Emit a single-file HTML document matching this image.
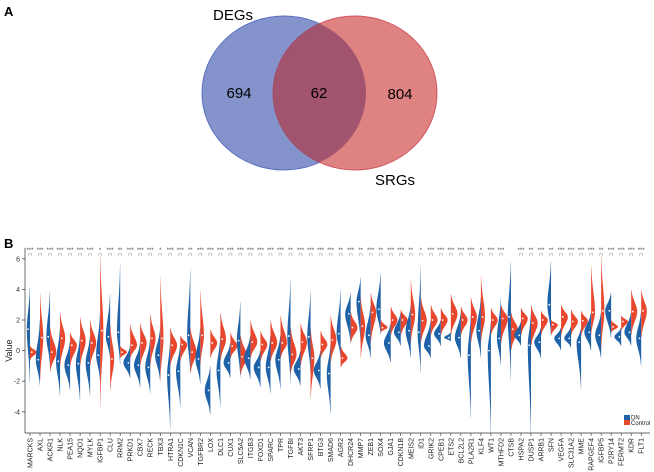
<!DOCTYPE html>
<html><head><meta charset="utf-8"><style>
body{margin:0;background:#fff;}
svg{display:block;font-family:"Liberation Sans",Arial,sans-serif;}
</style></head><body>
<svg id="fig" width="654" height="472" viewBox="0 0 654 472">
<text x="4" y="16" font-size="13" font-weight="bold">A</text>
<text x="4" y="248" font-size="13" font-weight="bold">B</text>
<defs><clipPath id="clipBlue"><ellipse cx="284" cy="93" rx="82" ry="77"/></clipPath></defs>
<g>
<ellipse cx="284" cy="93" rx="82" ry="77" fill="#8493cc" stroke="#5b6fc0" stroke-width="1"/>
<ellipse cx="355" cy="93" rx="82" ry="77" fill="#de8282" stroke="#d2545f" stroke-width="1"/>
<ellipse cx="355" cy="93" rx="82" ry="77" fill="#a2546f" stroke="#9a4d6a" stroke-width="0.8" clip-path="url(#clipBlue)"/>
<text x="233" y="20" font-size="15" text-anchor="middle">DEGs</text>
<text x="395" y="185" font-size="15" text-anchor="middle">SRGs</text>
<text x="239" y="98" font-size="15" text-anchor="middle">694</text>
<text x="319" y="98" font-size="15" text-anchor="middle">62</text>
<text x="400" y="99" font-size="15" text-anchor="middle">804</text>
</g>
<g id="violin"></g>
</svg>
<script>
const genes=["MARCKS","AXL","ACKR1","NLK","PEA15","NQO1","MYLK","IGFBP1","CLU","RRM2","PRKD1","CBX7","RECK","TBX3","HTRA1","CDKN1C","VCAN","TGFBR2","LOX","DLC1","CUX1","SLC5A2","ITGB3","FOXD1","SPARC","TPR","TGFBI","AKT3","SFRP1","BTG3","SMAD6","AGR2","DHCR24","MMP7","ZEB1","SOX4","GJA1","CDKN1B","MEIS2","ID1","GRIK2","CPEB1","ETS2","BCL2L2","PLA2R1","KLF4","WT1","MTHFD2","CTSB","HSPA2","DUSP1","ARRB1","SFN","VEGFA","SLC31A2","MME","RAPGEF4","IGFBP5","P2RY14","FERMT2","KDR","FLT1"];
const dnMedian=[1.4,-0.6,0.9,-0.7,-0.95,-0.85,-0.8,-0.3,0.9,1.2,-0.8,-0.95,-1.1,-0.3,-1.6,-1.35,1,-0.55,-2.6,-1.3,-0.8,0.65,-0.5,-1.1,-1.1,-0.6,0.95,-1.2,0.9,-1.3,-1.5,1.1,2.4,3.2,1,2.7,0.5,1.2,1.3,1.2,0.3,1.1,0.85,0.85,-0.3,1.3,0,0.8,2.2,1,0.35,0.55,3,0.8,0.8,0.55,1.2,1,2.6,0.9,1.2,0.8];
const dnMin=[-2.2,-2.3,-1,-3,-2.6,-3.3,-3,-2,-0.5,-1,-1.8,-2.4,-2.8,-2,-5.2,-3.7,-1.5,-2.2,-4.2,-3.7,-1.8,-1.8,-1.9,-2.4,-2.8,-2.5,-2.2,-2.3,-1.5,-2.5,-4.2,-0.5,0.5,0.5,-0.5,1,-0.8,0.3,-0.5,-1.5,-0.5,0.3,0.6,-0.5,-4.5,-0.5,-5.5,-1,-2,0.3,-5.6,-0.5,1,0,0.2,-2.5,0,-0.5,0.8,0.3,0.3,-1];
const dnMax=[4.2,2,3.9,1.5,0.6,1,1,2.5,3.7,5.7,0.3,0.5,0.8,1.5,0.8,0.5,5.4,1.5,-1,1,0.5,3.2,1,0,1,1,4.7,0,3.9,0,0.5,4,3.8,4.8,3,5.1,1.8,2.5,3,5.6,2,2,1.2,2.5,2.5,3.5,2,3.5,5.9,1.9,2.5,1.5,5.9,1.5,1.6,1.5,2.5,2.5,3.8,1.5,2.5,2.6];
const ctMedian=[-0.1,0.85,-0.1,0.8,0.35,0.65,0.5,1.3,-0.55,-0.1,0.35,0.5,0.8,0.8,0.35,0.4,-0.1,1,0.5,0.75,0.3,-0.4,0.55,0.4,0.5,0.5,-0.25,0.55,-0.5,0.4,0.7,-0.5,1.5,1.6,2.5,1.5,2,2,2.35,1.95,2,2,2.4,2,2.2,2.2,2,2.1,1.4,2.1,1.8,2,1.7,2.2,1.9,1.95,2.5,2.6,1.55,1.9,2.55,2.6];
const ctMin=[-0.6,-2,-1.4,-1,-1,-1,-1,-3.8,-2.7,-0.5,-0.5,-1,-1,-2,-1,-0.7,-1.5,-1,-0.5,-0.7,-0.5,-1.6,-0.5,-0.7,-0.7,-0.5,-1.5,-1,-3.2,-0.5,-0.8,-1.1,0.5,-0.5,0.5,1.2,1,1,0.5,0.5,1,1,1,1,0.5,0.5,1,0.5,0,1,0.3,1,1,1,1,1,1,0,1.2,1.3,1,0.8];
const ctMax=[0.3,3.8,1.5,2.5,1.2,2.2,2,6.3,1.8,0.3,1.7,1.8,2.4,4.9,1.5,1,1.5,4,1.4,2.5,1.2,1,2,1.3,2,2.3,1.5,1.8,1.5,1.3,2.3,0.3,2.5,3.5,3.8,2,2.9,2.7,4.6,3.5,3,2.8,3.7,2.9,3.5,4.9,2.8,3,2.5,2.8,3,2.6,2,3,2.7,2.6,5.6,6.3,2,2.3,4,4];
const sig=["***","***","***","***","***","***","***","*","***","**","***","***","***","*","***","***","**","***","***","***","***","***","***","***","***","***","**","***","***","***","***","**","***","**","***","**","***","***","**","*","***","***","***","***","***","*","***","***","","***","**","***","**","***","***","***","***","**","***","***","***","***"];
const yTicks=[-4,-2,0,2,4,6];

const NS="http://www.w3.org/2000/svg";
const g=document.getElementById('violin');
const X0=30,DX=10.02,Y0=350.6,UY=15.3;
const xScale=i=>X0+i*DX;
const yScale=v=>Y0-v*UY;
function mk(tag,attrs,parent){const e=document.createElementNS(NS,tag);for(const k in attrs)e.setAttribute(k,attrs[k]);(parent||g).appendChild(e);return e;}

const yAxis=mk('line',{x1:25,y1:248,x2:25,y2:433,stroke:'#333','stroke-width':0.7});


const xAxis=mk('line',{x1:25,y1:433,x2:650,y2:433,stroke:'#333','stroke-width':0.7});


yTicks.forEach(t=>{
  const tk=mk('line',{x1:22,x2:25,y1:yScale(t),y2:yScale(t),stroke:'#333','stroke-width':0.7});
  
  
  const tl=mk('text',{x:20,y:yScale(t)+2.5,'font-size':7,'text-anchor':'end',fill:'#333'});
  tl.textContent=t;
  
  
});
const yt=mk('text',{x:12,y:Y0,'font-size':9,'text-anchor':'middle',transform:`rotate(-90 12 ${Y0})`,fill:'#222'});
yt.textContent='Value';



function halfViolin(cx,med,mn,mx,side,color){
  const range=Math.max(mx-mn,0.3);
  const W=Math.min(6.8,Math.max(3.2,18/range));
  const n=40,pts=[];
  for(let k=0;k<=n;k++){
    const v=mn+(mx-mn)*k/n;
    const s=v<med?(med-mn):(mx-med);
    const t=s>0?(v-med)/s:1;
    let w=W*Math.exp(-3.0*t*t);
    if(k===0||k===n)w=0;
    pts.push([cx+side*w,yScale(v)]);
  }
  let d=`M${cx},${yScale(mn)}`;
  pts.forEach(p=>d+=`L${p[0].toFixed(2)},${p[1].toFixed(2)}`);
  d+=`L${cx},${yScale(mx)}Z`;
  return mk('path',{d:d,fill:color,stroke:'none'});
}

genes.forEach((name,i)=>{
  const cx=xScale(i);
  const b=halfViolin(cx,dnMedian[i],dnMin[i],dnMax[i],-1,'#1f62a8');
  
  
  const r=halfViolin(cx,ctMedian[i],ctMin[i],ctMax[i],1,'#e8472e');
  
  
  const d1=mk('circle',{cx:cx-1.8,cy:yScale(dnMedian[i]),r:0.9,fill:'#fff'});
  
  
  const d2=mk('circle',{cx:cx+1.8,cy:yScale(ctMedian[i]),r:0.9,fill:'#fff'});
  
  
  const tk=mk('line',{x1:cx,x2:cx,y1:433,y2:436,stroke:'#333','stroke-width':0.6});
  
  
  const lb=mk('text',{x:cx+2.5,y:438,'font-size':7,'text-anchor':'end',transform:`rotate(-90 ${cx+2.5} 438)`,fill:'#222'});
  lb.textContent=name;
  
  
  if(sig[i]){
    const s=mk('text',{x:cx,y:252,'font-size':6,'text-anchor':'middle',fill:'#444'});
    s.textContent=sig[i];
    
    
    const br=mk('path',{d:`M${cx-1.5},256V253.5H${cx+1.5}V256`,fill:'none',stroke:'#999','stroke-width':0.5});
    
    
  }
});

const lg=mk('g',{});


const l1=mk('rect',{x:624,y:415,width:6,height:5,fill:'#1f62a8'},lg);


const l2=mk('rect',{x:624,y:420,width:6,height:5,fill:'#e8472e'},lg);


const t1=mk('text',{x:631,y:419.5,'font-size':6,fill:'#222'},lg);
t1.textContent='DN';


const t2=mk('text',{x:631,y:425,'font-size':6,fill:'#222'},lg);
t2.textContent='Control';


</script>
</body></html>
